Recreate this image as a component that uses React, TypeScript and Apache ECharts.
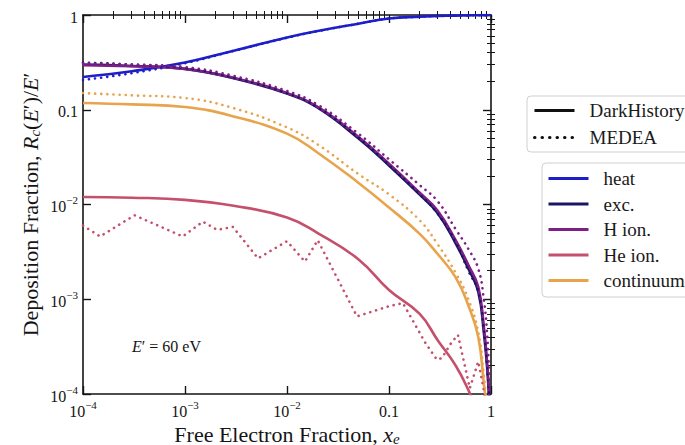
import { useEffect, useRef } from 'react';
import * as echarts from 'echarts';

// ---------- data ----------
const xGrid = [1e-4, 3e-4, 1e-3, 3e-3, 1e-2, 2e-2, 5e-2, 0.1, 0.2, 0.3, 0.45, 0.6, 0.75, 0.85, 0.92, 0.97, 1.0];

// DarkHistory (solid)
const heatDH = [0.222, 0.255, 0.315, 0.42, 0.58, 0.678, 0.81, 0.92, 0.96, 0.975, 0.985, 0.99, 0.995, 0.997, 0.998, 0.999, 1.0];
const excDH = [0.30, 0.29, 0.27, 0.215, 0.148, 0.105, 0.050, 0.0258, 0.0127, 0.0081, 0.0039, 0.0021, 0.0012, 0.00045, 0.00018, 0.00007];
const hionDH = [0.295, 0.288, 0.27, 0.217, 0.15, 0.107, 0.052, 0.027, 0.0133, 0.0086, 0.0042, 0.0023, 0.00135, 0.00052, 0.0002, 0.00008];
const heionDH = [0.012, 0.0118, 0.0112, 0.0097, 0.0073, 0.0050, 0.00265, 0.00125, 0.0007, 0.00037, 0.0002, 0.00011, 0.00006];
const contDH = [0.118, 0.114, 0.107, 0.085, 0.056, 0.0352, 0.017, 0.0093, 0.0049, 0.0030, 0.0017, 0.00086, 0.0004, 0.00013, 0.00006];

// MEDEA (dotted)
const heatME = [0.206, 0.243, 0.31, 0.418, 0.575, 0.675, 0.808, 0.918, 0.958, 0.974, 0.985, 0.99, 0.995, 0.997, 0.998, 0.999, 1.0];
const excME = [0.315, 0.30, 0.275, 0.218, 0.15, 0.106, 0.051, 0.026, 0.0128, 0.0080, 0.0040, 0.0020, 0.0012, 0.00048, 0.00019, 0.00007];
const hionME = [0.31, 0.30, 0.282, 0.228, 0.158, 0.113, 0.056, 0.030, 0.016, 0.0108, 0.0055, 0.0034, 0.0021, 0.0010, 0.0004, 0.00011];
const contME = [0.15, 0.142, 0.133, 0.104, 0.065, 0.043, 0.021, 0.0128, 0.0068, 0.0038, 0.0019, 0.001, 0.00045, 0.00016, 0.00006];
const heionMEx = [1.0e-4, 1.47e-4, 3.2e-4, 9.5e-4, 1.5e-3, 2.06e-3, 2.95e-3, 5.2e-3, 1.0e-2, 1.5e-2, 2.0e-2, 4.85e-2, 0.102, 0.137, 0.226, 0.295, 0.33, 0.41, 0.474, 0.62, 0.75, 0.9];
const heionMEy = [6.0e-3, 4.6e-3, 7.7e-3, 4.6e-3, 6.6e-3, 5.4e-3, 5.8e-3, 2.7e-3, 4.1e-3, 2.5e-3, 4.2e-3, 6.6e-4, 8.5e-4, 9.1e-4, 3.5e-4, 2.3e-4, 2.4e-4, 3.5e-4, 4.2e-4, 1.15e-4, 2.2e-4, 8e-5];

const componentNames = ['heat', 'exc.', 'H ion.', 'He ion.', 'continuum'];
const componentColors = ['#1e1ec8', '#1b1566', '#7e1f86', '#c4506c', '#e8a44c'];
const methodNames = ['DarkHistory', 'MEDEA'];

// axis ticks
const tickExps = [-4, -3, -2, -1, 0];
const tickLabels = ['{b|10}{sup|−4}', '{b|10}{sup|−3}', '{b|10}{sup|−2}', '{b|0.1}', '{b|1}'];
const minorDecades = [-4, -3, -2, -1];
const minorFactors = [2, 3, 4, 5, 6, 7, 8, 9];

const FONT = "'Liberation Serif', 'DejaVu Serif', 'Times New Roman', serif";
const INK = '#151515';
const DOTS = [0.1, 6];

function zip(xs: number[], ys: number[]) {
  return ys.map((y, i) => [xs[i], y]);
}

function tickFormatter(v: number) {
  const e = Math.round(Math.log10(v));
  const idx = tickExps.indexOf(e);
  return idx >= 0 ? tickLabels[idx] : '';
}

const labelRich = {
  b: { fontFamily: FONT, fontSize: 16, color: INK, lineHeight: 20, verticalAlign: 'bottom' },
  sup: { fontFamily: FONT, fontSize: 11, color: INK, lineHeight: 20, verticalAlign: 'top' },
};

const minorLog = minorDecades.flatMap((d) => minorFactors.map((f) => d + Math.log10(f)));

function mainAxis(position: string, showLabel: boolean, extra: any = {}) {
  return {
    type: 'log',
    logBase: 10,
    min: 1e-4,
    max: 1,
    position,
    axisLine: { show: true, onZero: false, lineStyle: { color: INK, width: 1.6 } },
    axisTick: { show: true, inside: true, length: 8, lineStyle: { color: INK, width: 1.4 } },
    axisLabel: {
      show: showLabel,
      formatter: tickFormatter,
      rich: labelRich,
      margin: 5,
      fontFamily: FONT,
      fontSize: 16,
      color: INK,
    },
    splitLine: { show: false },
    ...extra,
  };
}

function minorAxis(position: string) {
  return {
    type: 'value',
    min: -4,
    max: 0,
    position,
    axisLine: { show: false },
    axisTick: { show: true, inside: true, length: 4, customValues: minorLog, lineStyle: { color: INK, width: 1 } },
    axisLabel: { show: false },
    splitLine: { show: false },
  };
}

const nameRich = {
  i: { fontFamily: FONT, fontSize: 22, fontStyle: 'italic', color: INK, lineHeight: 24 },
  sub: { fontFamily: FONT, fontSize: 15, fontStyle: 'italic', color: INK, lineHeight: 24, verticalAlign: 'bottom' },
};

function solidSeries(name: string, color: string, data: number[][]) {
  return {
    type: 'line',
    name,
    data,
    xAxisIndex: 0,
    yAxisIndex: 0,
    symbol: 'none',
    smooth: 0.45,
    color,
    lineStyle: { color, width: 2.6 },
  };
}

function dottedSeries(name: string, color: string, data: number[][], smooth = true) {
  return {
    type: 'line',
    name,
    data,
    xAxisIndex: 0,
    yAxisIndex: 0,
    symbol: 'none',
    smooth: smooth ? 0.45 : false,
    color,
    lineStyle: { color, width: 2.6, type: DOTS, cap: 'round' },
  };
}

export default function App() {
  const ref = useRef<HTMLDivElement>(null);

  useEffect(() => {
    const chart = echarts.init(ref.current!, null, { renderer: 'svg' });

    const dhData = [heatDH, excDH, hionDH, heionDH, contDH];
    const meData = [zip(xGrid, heatME), zip(xGrid, excME), zip(xGrid, hionME), zip(heionMEx, heionMEy), zip(xGrid, contME)];

    const series: any[] = [];
    dhData.forEach((vals, i) => series.push(solidSeries(componentNames[i], componentColors[i], zip(xGrid, vals))));
    meData.forEach((d, i) => series.push(dottedSeries(componentNames[i] + ' (MEDEA)', componentColors[i], d, i !== 3)));
    // legend-only series for the line styles
    series.push({ type: 'line', name: methodNames[0], data: [], symbol: 'none', color: '#111', lineStyle: { color: '#111', width: 3 } });
    series.push({ type: 'line', name: methodNames[1], data: [], symbol: 'none', color: '#111', lineStyle: { color: '#111', width: 3, type: [0.5, 7], cap: 'round' } });

    const legendText = { fontFamily: FONT, fontSize: 19, color: '#1a1a1a', padding: [0, 0, 0, 10] };
    const hiddenSymbol = { color: 'rgba(0,0,0,0)', borderColor: 'rgba(0,0,0,0)', borderWidth: 0, opacity: 0 };

    chart.setOption({
      animation: false,
      backgroundColor: '#ffffff',
      grid: { left: 83, top: 15, width: 408, height: 379, outerBoundsMode: 'none', containLabel: false },
      xAxis: [
        mainAxis('bottom', true, {
          name: 'Free Electron Fraction, {i|x}{sub|e}',
          nameLocation: 'middle',
          nameGap: 28,
          nameMoveOverlap: false,
          nameTextStyle: { fontFamily: FONT, fontSize: 22, color: INK, lineHeight: 24, rich: nameRich },
        }),
        minorAxis('bottom'),
        mainAxis('top', false),
        minorAxis('top'),
      ],
      yAxis: [
        mainAxis('left', true, {
          name: 'Deposition Fraction, {i|R}{sub|c}({i|E}′)/{i|E}′',
          nameLocation: 'middle',
          nameGap: 41,
          nameMoveOverlap: false,
          nameTextStyle: { fontFamily: FONT, fontSize: 22, color: INK, lineHeight: 24, rich: nameRich },
        }),
        minorAxis('left'),
        mainAxis('right', false),
        minorAxis('right'),
      ],
      legend: [
        {
          orient: 'vertical',
          left: 527,
          top: 96,
          data: methodNames,
          selectedMode: false,
          itemWidth: 40,
          itemHeight: 14,
          itemGap: 8,
          padding: [5, 14, 5, 6],
          borderColor: '#cfcfcf',
          borderWidth: 1,
          borderRadius: 4,
          backgroundColor: '#ffffff',
          lineStyle: { width: 3 },
          itemStyle: hiddenSymbol,
          textStyle: legendText,
        },
        {
          orient: 'vertical',
          left: 542,
          top: 163,
          data: componentNames,
          selectedMode: false,
          itemWidth: 40,
          itemHeight: 14,
          itemGap: 6.5,
          padding: [6, 14, 7, 5],
          borderColor: '#cfcfcf',
          borderWidth: 1,
          borderRadius: 4,
          backgroundColor: '#ffffff',
          lineStyle: { width: 3 },
          itemStyle: hiddenSymbol,
          textStyle: legendText,
        },
      ],
      graphic: [
        {
          type: 'text',
          left: 132,
          top: 338,
          style: {
            text: '{i|E}′ = 60 eV',
            fontFamily: FONT,
            fontSize: 16,
            fill: INK,
            rich: { i: { fontFamily: FONT, fontSize: 16, fontStyle: 'italic', fill: INK } },
          },
        },
      ],
      series,
    });

    return () => chart.dispose();
  }, []);

  return <div ref={ref} style={{ position: 'fixed', left: 0, top: 0, width: 685, height: 445 }} />;
}
